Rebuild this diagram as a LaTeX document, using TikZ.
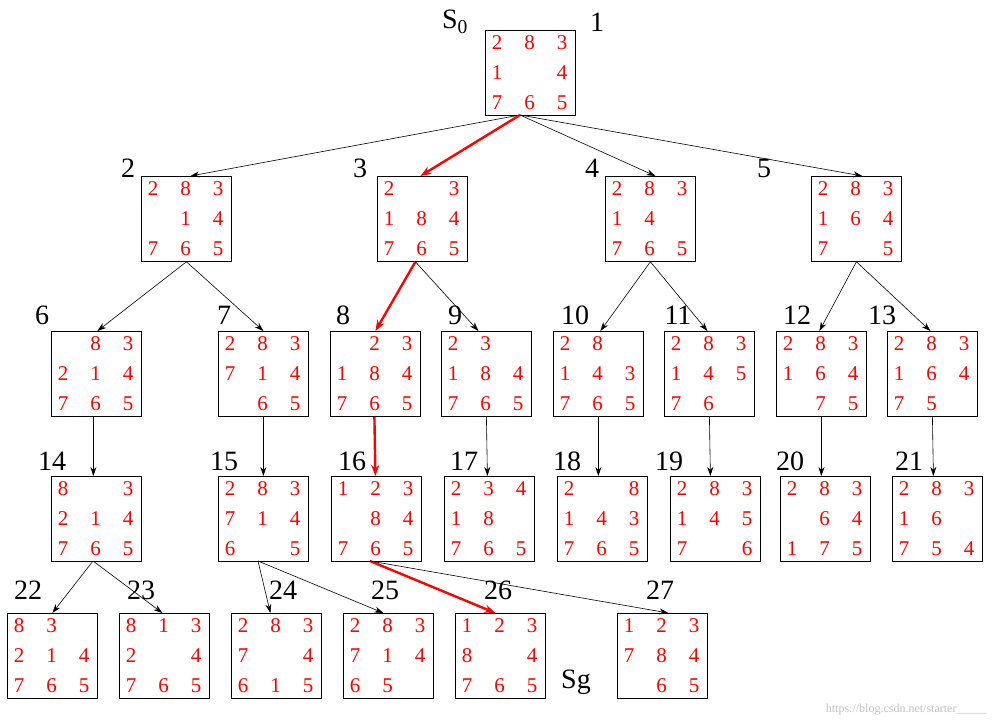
\documentclass[tikz,border=0pt]{standalone}
\usepackage{fontspec}
\setmainfont{Liberation Serif}
\usetikzlibrary{arrows.meta}
\begin{document}
\begin{tikzpicture}[x=1pt,y=-1pt,
  box/.style={draw=black,line width=0.8pt,minimum width=90pt,minimum height=85pt,anchor=north west,inner sep=0pt},
  dig/.style={text=red,font=\fontsize{21}{21}\selectfont,inner sep=0pt},
  lab/.style={font=\fontsize{28}{28}\selectfont,inner sep=0pt},
  edge/.style={-{Stealth[length=9pt,width=6pt]},line width=0.6pt},
  sol/.style={-{Stealth[length=11pt,width=8pt]},red,line width=2.4pt}]
\useasboundingbox (0,0) rectangle (998,727);
\newcommand\pz[6]{%
  \node[box] (n#1) at (#2,#3) {};
  \foreach \r [count=\j] in {#4,#5,#6}{
    \foreach \d [count=\i] in \r {
      \node[dig] (n#1-\j-\i) at ({#2+12+(\i-1)*32.5},{#3+13+(\j-1)*30}) {\d};
    }
  }
}
\pz{1}{485}{30}{{2,8,3}}{{1,,4}}{{7,6,5}}
\pz{2}{141}{176}{{2,8,3}}{{,1,4}}{{7,6,5}}
\pz{3}{377}{176}{{2,,3}}{{1,8,4}}{{7,6,5}}
\pz{4}{605}{176}{{2,8,3}}{{1,4,}}{{7,6,5}}
\pz{5}{811}{176}{{2,8,3}}{{1,6,4}}{{7,,5}}
\pz{6}{51}{331}{{,8,3}}{{2,1,4}}{{7,6,5}}
\pz{7}{218}{331}{{2,8,3}}{{7,1,4}}{{,6,5}}
\pz{8}{330}{331}{{,2,3}}{{1,8,4}}{{7,6,5}}
\pz{9}{441}{331}{{2,3,}}{{1,8,4}}{{7,6,5}}
\pz{10}{553}{331}{{2,8,}}{{1,4,3}}{{7,6,5}}
\pz{11}{664}{331}{{2,8,3}}{{1,4,5}}{{7,6,}}
\pz{12}{776}{331}{{2,8,3}}{{1,6,4}}{{,7,5}}
\pz{13}{887}{331}{{2,8,3}}{{1,6,4}}{{7,5,}}
\pz{14}{51}{476}{{8,,3}}{{2,1,4}}{{7,6,5}}
\pz{15}{218}{476}{{2,8,3}}{{7,1,4}}{{6,,5}}
\pz{16}{331}{476}{{1,2,3}}{{,8,4}}{{7,6,5}}
\pz{17}{444}{476}{{2,3,4}}{{1,8,}}{{7,6,5}}
\pz{18}{557}{476}{{2,,8}}{{1,4,3}}{{7,6,5}}
\pz{19}{670}{476}{{2,8,3}}{{1,4,5}}{{7,,6}}
\pz{20}{780}{476}{{2,8,3}}{{,6,4}}{{1,7,5}}
\pz{21}{892}{476}{{2,8,3}}{{1,6,}}{{7,5,4}}
\pz{22}{7}{613}{{8,3,}}{{2,1,4}}{{7,6,5}}
\pz{23}{119}{613}{{8,1,3}}{{2,,4}}{{7,6,5}}
\pz{24}{231}{613}{{2,8,3}}{{7,,4}}{{6,1,5}}
\pz{25}{343}{613}{{2,8,3}}{{7,1,4}}{{6,5,}}
\pz{26}{455}{613}{{1,2,3}}{{8,,4}}{{7,6,5}}
\pz{27}{617}{613}{{1,2,3}}{{7,8,4}}{{,6,5}}
% labels
\node[lab] (s0) at (455,22) {S\textsubscript{0}};
\node[lab] (l1) at (597,22) {1};
\node[lab] (l2) at (128,168) {2};
\node[lab] (l3) at (360,168) {3};
\node[lab] (l4) at (592,168) {4};
\node[lab] (l5) at (764,168) {5};
\node[lab] (l6) at (42,315) {6};
\node[lab] (l7) at (224,315) {7};
\node[lab] (l8) at (343,315) {8};
\node[lab] (l9) at (455,315) {9};
\node[lab] (l10) at (575,315) {10};
\node[lab] (l11) at (678,315) {11};
\node[lab] (l12) at (797,315) {12};
\node[lab] (l13) at (882,315) {13};
\node[lab] (l14) at (52,461) {14};
\node[lab] (l15) at (224,461) {15};
\node[lab] (l16) at (352,461) {16};
\node[lab] (l17) at (464,461) {17};
\node[lab] (l18) at (567,461) {18};
\node[lab] (l19) at (669,461) {19};
\node[lab] (l20) at (790,461) {20};
\node[lab] (l21) at (909,461) {21};
\node[lab] (l22) at (28,590) {22};
\node[lab] (l23) at (141,590) {23};
\node[lab] (l24) at (283,590) {24};
\node[lab] (l25) at (385,590) {25};
\node[lab] (l26) at (498,590) {26};
\node[lab] (l27) at (660,590) {27};
\node[lab] (sg) at (576,682) {Sg};
\node[text=gray!50,font=\fontsize{12}{12}\selectfont,anchor=east] (wm) at (990,710) {https://blog.csdn.net/starter\_\_\_\_\_};
% edges
\coordinate (o1) at (520,115);
\draw[edge] (o1) -- ([xshift=4pt]n2.north);
\draw[sol] (o1) -- ([xshift=-2pt]n3.north);
\draw[edge] (o1) -- ([xshift=5pt]n4.north);
\draw[edge] (o1) -- ([xshift=6pt]n5.north);
\draw[edge] (n2.south) -- ([xshift=1pt]n6.north);
\draw[edge] (n2.south) -- (n7.north);
\draw[sol] ([xshift=-7pt]n3.south) -- (n8.north);
\draw[edge] ([xshift=-7pt]n3.south) -- ([xshift=-8pt]n9.north);
\draw[edge] (n4.south) -- ([xshift=2pt]n10.north);
\draw[edge] (n4.south) -- ([xshift=-2pt]n11.north);
\draw[edge] (n5.south) -- ([xshift=-2pt]n12.north);
\draw[edge] (n5.south) -- ([xshift=-2pt]n13.north);
\draw[edge] ([xshift=-3pt]n6.south) -- ([xshift=-3pt]n14.north);
\draw[edge] (n7.south) -- (n15.north);
\draw[sol] ([xshift=-1pt]n8.south) -- ([xshift=-1pt]n16.north);
\draw[edge] (n9.south) -- ([xshift=-2pt]n17.north);
\draw[edge] (n10.south) -- ([xshift=-4pt]n18.north);
\draw[edge] (n11.south) -- ([xshift=-5pt]n19.north);
\draw[edge] (n12.south) -- ([xshift=-4pt]n20.north);
\draw[edge] (n13.south) -- ([xshift=-4pt]n21.north);
\coordinate (o14) at (93,561);
\draw[edge] (o14) -- (n22.north);
\draw[edge] (o14) -- ([xshift=-2pt]n23.north);
\coordinate (o15) at (258,561);
\draw[edge] (o15) -- ([xshift=-6pt]n24.north);
\draw[edge] (o15) -- ([xshift=-5pt]n25.north);
\coordinate (o16) at (370,561);
\draw[sol] (o16) -- ([xshift=-5pt]n26.north);
\draw[edge] (o16) -- ([xshift=6pt]n27.north);
\end{tikzpicture}
\end{document}
